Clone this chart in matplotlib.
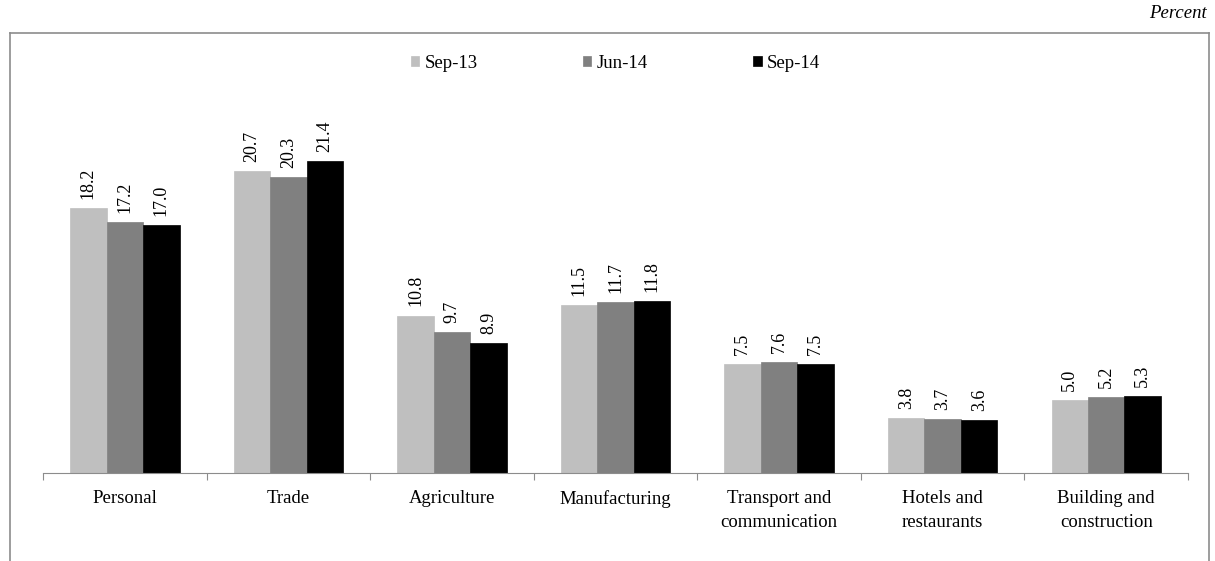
import numpy as np
import matplotlib
matplotlib.use("Agg")
import matplotlib.pyplot as plt

# ---- data ---------------------------------------------------------------
categories = ["Personal", "Trade", "Agriculture", "Manufacturing",
              "Transport and\ncommunication", "Hotels and\nrestaurants",
              "Building and\nconstruction"]
series_names = ["Sep-13", "Jun-14", "Sep-14"]
sep13 = [18.2, 20.7, 10.8, 11.5, 7.5, 3.8, 5.0]
jun14 = [17.2, 20.3, 9.7, 11.7, 7.6, 3.7, 5.2]
sep14 = [17.0, 21.4, 8.9, 11.8, 7.5, 3.6, 5.3]
colors = ["#bfbfbf", "#808080", "#000000"]

plt.rcParams['font.family'] = ['Liberation Serif', 'DejaVu Serif']

W, H = 1215, 561
fig = plt.figure(figsize=(W / 100, H / 100), dpi=100)
ax = fig.add_axes([0.0354, 0.1569, 0.9424, 0.6497])

# outer frame (bottom edge runs off the picture)
gray = "#8c8c8c"
top = 1 - 33 / H
for xs, ys in [([10 / W, 10 / W], [0, top]),
               ([10 / W, 1209 / W], [top, top]),
               ([1209 / W, 1209 / W], [0, top])]:
    fig.add_artist(plt.Line2D(xs, ys, transform=fig.transFigure,
                              color=gray, lw=1.2))

fig.text(1207 / W, 1 - 13 / H, "Percent", ha="right", va="center",
         fontsize=13.5, style="italic")

x = np.arange(len(categories))
bw = 0.223
for i, (vals, name, c) in enumerate(zip([sep13, jun14, sep14], series_names, colors)):
    pos = x + (i - 1) * bw
    ax.bar(pos, vals, width=bw, color=c, label=name, edgecolor=c, lw=0.5)
    for p, v in zip(pos, vals):
        ax.annotate(f"{v:.1f}", xy=(p, v), xytext=(0, 6.5),
                    textcoords="offset points", rotation=90,
                    ha="center", va="bottom", fontsize=13)

ax.set_xlim(-0.5, len(categories) - 0.5)
ax.set_ylim(0, 25)
ax.set_yticks([])
for s in ["left", "right", "top"]:
    ax.spines[s].set_visible(False)
ax.spines["bottom"].set_color(gray)

# tick marks between categories, labels centred under groups
ax.set_xticks(np.arange(len(categories) + 1) - 0.5)
ax.set_xticklabels([])
ax.tick_params(axis="x", which="major", length=5, color=gray, direction="out")
ax.set_xticks(x, minor=True)
ax.set_xticklabels(categories, minor=True, fontsize=13.5, linespacing=1.55)
ax.tick_params(axis="x", which="minor", length=0, pad=12.5)

ax.legend(loc="center", bbox_to_anchor=(0.5, (1 - 63 / H - 0.1569) / 0.6497),
          bbox_transform=ax.transAxes, ncol=3, frameon=False, fontsize=13.5,
          handlelength=0.45, handleheight=0.45, handletextpad=0.3,
          columnspacing=5.6)

fig.savefig("out.png", dpi=100)
